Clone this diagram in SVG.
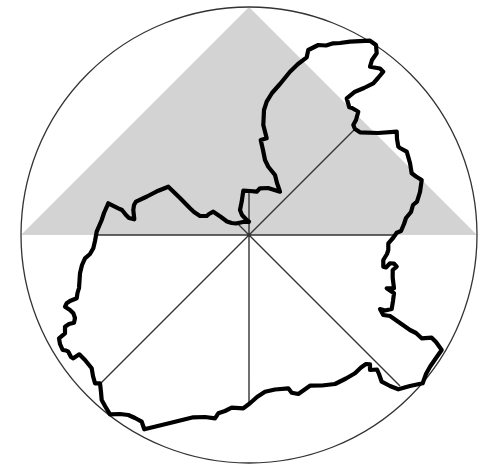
<svg xmlns="http://www.w3.org/2000/svg" width="481" height="467" viewBox="0 0 481 467">
<style>
.spoke{stroke:#333;stroke-width:1.4;fill:none}
.outline{stroke:#000;stroke-width:4.2;fill:none;stroke-linejoin:round;stroke-linecap:round}
</style>
<rect width="481" height="467" fill="#fff"/>
<polygon points="21,235 249,7 477,235" fill="#d3d3d3"/>
<circle cx="249" cy="235" r="228" fill="none" stroke="#333" stroke-width="1.3"/>
<g>
<path class="spoke" d="M97,235H394M249,190V404M249,235L354,130M249,235L101,383M249,235L400,386M249,235L236,222"/>
</g>
<path class="outline" d="M249,221.7L243,222L236,223.5L231.7,223L227,221.5L221,217L213.3,211.7L209,214L206.7,216L200,216L194,212L190,208.3L180,198L168.3,186.7L158.3,190.7L147,196.5L136,201.7L134,205L133.3,210L134.3,219.3L129,218L126,215L122,210L118.3,208.3L108.3,203.3L104,213L101.7,220L96.7,231.7L95,241L93.3,248.3L90,254L85,258.3L82,265L80,273.3L79,288L77.5,293L76.7,298.3L70,301L66.7,303.3L65,306.7L70,310L73.3,313.3L75,318L74,322.7L69,324L65,326.7L65,333.3L59,338.3L60,344L62.7,350L66,350.5L68.3,351.7L71,357L73.3,358.3L79.3,354.3L85,360L91.7,368.3L93,376L95,383.3L100,383.3L101,392L101.7,400L105,406L110,414.3L120,414L128.3,415L135,418L141.7,421.7L144.3,429.3L170,423L193.3,417.3L205,417L215,418.3L218.3,413.3L225,411L231.7,407.7L243.3,408.3L250,403.3L257,397L265,391.7L275,389.5L288.3,388.3L291.7,392.7L298.3,394L304,390L310,385.7L322,385.5L335,384L346,378.5L355,373.3L361,367.5L366,364L370,364.3L370,370L377,369.5L379,374L381.7,381.7L390,386L398.3,389.3L410,386L422.7,383.3L426,374L430,366.7L436,358L441.7,350L436,342L431.7,337.7L421.7,338.3L416,333L410,330L400,323L390,316L383.3,315L380,309L385,310.5L391.7,309L393,301L394,293.3L386.7,288.3L394,288.3L392.7,278L392.7,270L396.7,266.7L394,263.5L390,263.3L386,267.5L383.3,266.7L383.3,260L387,254L388.3,250L388.3,243.3L393,238L396.7,232.7L401,231L404,224L406,218L411,212L413,205L417,201.7L420,192L421.7,180L416,176.5L411.7,173.3L410,163L406.7,151.7L400,148L398.3,146.7L397,139L396.7,131.7L378,133L360,132.3L355,129L353.3,125L356,120L358.3,111.7L352,108L349.3,107.3L346.7,98.3L355,91.7L364,88L373.3,83.3L378,78L383.3,71.7L380,68.5L370,66.7L372,60L376.7,53.3L376,45L370,40.7L350,41.7L340,43L333.3,43.3L326,45.5L318.3,45L308.3,50L306.7,57.3L298,64L290,71.7L280,84L272,93L266.7,101.7L264,110L263.3,125L266.7,138.3L260.7,140L263,150L265,160L268.3,166.7L275,175L277,183L280,191.7L268,188L260,188.3L256.7,191.7L250,191L243.3,190.7L241.7,201.7L240,210L242,215L246.7,220L249,221.7"/>
</svg>
